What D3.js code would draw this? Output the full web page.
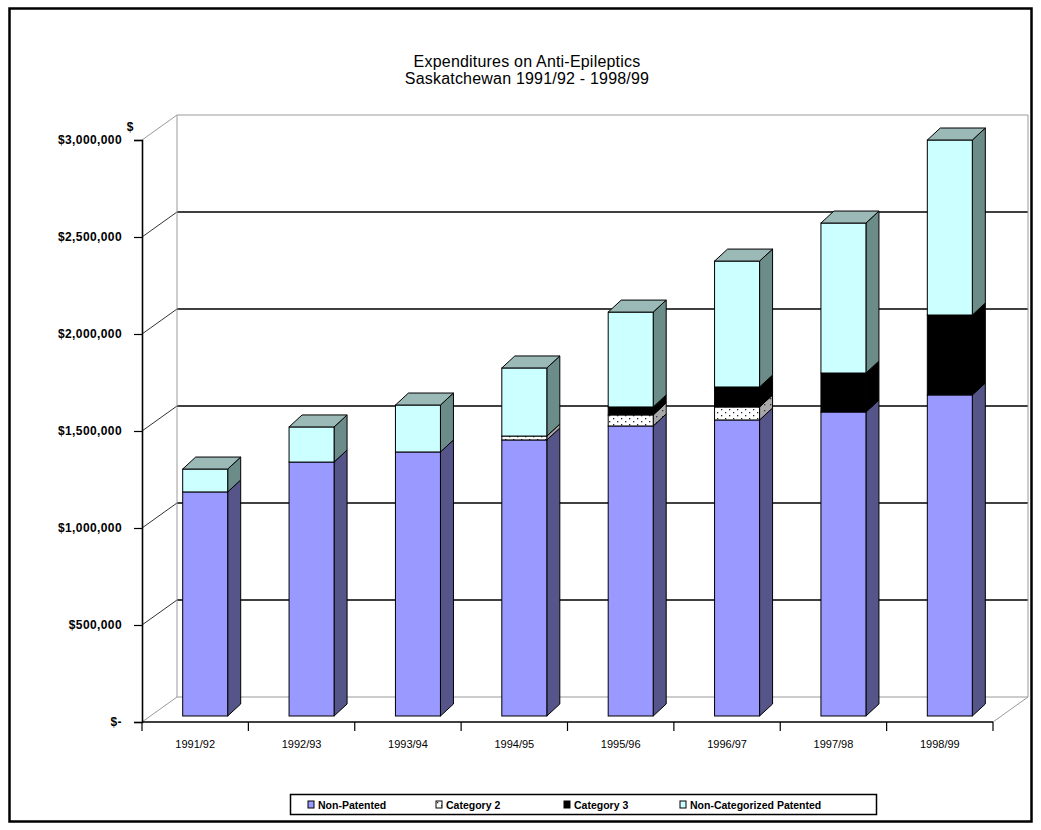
<!DOCTYPE html>
<html><head><meta charset="utf-8">
<script src="https://cdn.jsdelivr.net/npm/d3@7"></script>
<style>
html,body{margin:0;padding:0;background:#fff;}
svg{display:block;font-family:"Liberation Sans",Arial,sans-serif;}
</style></head>
<body>
<svg id="chart" width="1041" height="830"></svg>
<script>
// ---- data ----
const categories = ["1991/92","1992/93","1993/94","1994/95","1995/96","1996/97","1997/98","1998/99"];
const nonPatented     = [1155000, 1309000, 1361000, 1423000, 1495000, 1526000, 1567000, 1655000];
const category2       = [0, 0, 0, 20000, 57000, 67000, 0, 0];
const category3       = [0, 0, 0, 0, 41000, 103000, 201000, 412000];
const nonCatPatented  = [118000, 181000, 242000, 351000, 489000, 649000, 773000, 902000];
const seriesNames = ["Non-Patented","Category 2","Category 3","Non-Categorized Patented"];
const yTicks = [0, 500000, 1000000, 1500000, 2000000, 2500000, 3000000];
const yTickLabels = ["$-","$500,000","$1,000,000","$1,500,000","$2,000,000","$2,500,000","$3,000,000"];
const titleLines = ["Expenditures on Anti-Epileptics","Saskatchewan 1991/92 - 1998/99"];
const yAxisTitle = "$";

// ---- layout ----
const svg = d3.select("#chart");
const W = 1041, H = 830;
svg.append("rect").attr("x",0).attr("y",0).attr("width",W).attr("height",H).attr("fill","#fff");
svg.append("rect").attr("x",9.5).attr("y",8.5).attr("width",1022).attr("height",813)
  .attr("fill","none").attr("stroke","#000").attr("stroke-width",2.5);

const defs = svg.append("defs");
const pat = defs.append("pattern").attr("id","dots").attr("patternUnits","userSpaceOnUse")
  .attr("width",8).attr("height",6);
pat.append("rect").attr("width",8).attr("height",6).attr("fill","#fff");
pat.append("rect").attr("x",1).attr("y",1).attr("width",1.3).attr("height",1.3).attr("fill","#223");
pat.append("rect").attr("x",5).attr("y",4).attr("width",1.3).attr("height",1.3).attr("fill","#223");
const pat2 = defs.append("pattern").attr("id","dotsSide").attr("patternUnits","userSpaceOnUse")
  .attr("width",6).attr("height",6);
pat2.append("rect").attr("width",6).attr("height",6).attr("fill","#a8a8a8");
pat2.append("rect").attr("x",2).attr("y",2).attr("width",1.3).attr("height",1.3).attr("fill","#333");

const x = d3.scaleBand().domain(categories).range([142, 993]);
const y = d3.scaleLinear().domain([0, 3000000]).range([722, 140]);
const WX = 35, WY = -25;        // wall depth
const BX = 10, BY = -6;         // bar placement inside depth
const DX = 13, DY = -12;        // bar depth
const BW = 45;                  // bar width

// back wall & side wall
const g = svg.append("g");
const x0 = x.range()[0], x1 = x.range()[1];
yTicks.forEach((t,i) => {
  const edge = (i === 0 || i === yTicks.length-1);
  g.append("line").attr("x1",x0+WX).attr("x2",x1+WX).attr("y1",y(t)+WY).attr("y2",y(t)+WY)
    .attr("stroke", edge ? "#9a9a9a" : "#000").attr("stroke-width", edge ? 1 : 1.3);
  g.append("line").attr("x1",x0).attr("x2",x0+WX).attr("y1",y(t)).attr("y2",y(t)+WY)
    .attr("stroke", edge ? "#9a9a9a" : "#333").attr("stroke-width",1);
});
g.append("line").attr("x1",x0+WX).attr("x2",x0+WX).attr("y1",y(3000000)+WY).attr("y2",y(0)+WY).attr("stroke","#9a9a9a");
g.append("line").attr("x1",x1+WX).attr("x2",x1+WX).attr("y1",y(3000000)+WY).attr("y2",y(0)+WY).attr("stroke","#9a9a9a");
g.append("line").attr("x1",x1).attr("x2",x1+WX).attr("y1",y(0)).attr("y2",y(0)+WY).attr("stroke","#9a9a9a");

// axes
const yAxis = d3.axisLeft(y).tickValues(yTicks).tickFormat((d,i)=>yTickLabels[i]).tickSize(8).tickPadding(12);
const ya = svg.append("g").attr("transform",`translate(${x0},0)`).call(yAxis);
ya.select(".domain").attr("stroke","#000").attr("stroke-width",1.6);
ya.selectAll(".tick line").attr("stroke","#000").attr("stroke-width",1.2);
ya.selectAll(".tick text").attr("font-size",12).attr("font-weight","bold").attr("fill","#000")
  .attr("letter-spacing","0.4");

const xa = svg.append("g").attr("transform",`translate(0,${y(0)})`)
  .call(d3.axisBottom(x).tickSize(0).tickPadding(18));
xa.select(".domain").remove();
xa.selectAll(".tick text").attr("font-size",11).attr("fill","#000");
svg.append("line").attr("x1",x0).attr("x2",x1).attr("y1",y(0)).attr("y2",y(0)).attr("stroke","#000").attr("stroke-width",1.6);
const bounds = categories.map(c=>x(c)).concat([x1]);
svg.selectAll(".xtick").data(bounds).join("line").attr("class","xtick")
  .attr("x1",d=>d).attr("x2",d=>d).attr("y1",y(0)).attr("y2",y(0)+9).attr("stroke","#000").attr("stroke-width",1.2);

// bars
const rows = categories.map((c,i)=>({cat:c, np:nonPatented[i], c2:category2[i], c3:category3[i], ncp:nonCatPatented[i]}));
const keys = ["np","c2","c3","ncp"];
const stack = d3.stack().keys(keys)(rows);
const styles = {
  np:  {front:"#9999ff", side:"#55558a", top:"#b3b3ff"},
  c2:  {front:"url(#dots)", side:"url(#dotsSide)", top:"#ddd"},
  c3:  {front:"#000", side:"#000", top:"#222"},
  ncp: {front:"#ccffff", side:"#6c8c8a", top:"#9bb9b6"}
};
const bars = svg.append("g");
categories.forEach((c,i)=>{
  const xl = x(c) + x.bandwidth()/2 - BW/2 + BX, xr = xl + BW;
  let topKey = null;
  keys.forEach((k,ki)=>{ const s = stack[ki][i]; if (s[1]-s[0] > 0) topKey = k; });
  keys.forEach((k,ki)=>{
    const s = stack[ki][i];
    if (s[1]-s[0] <= 0) return;
    const yb = y(s[0]) + BY, yt = y(s[1]) + BY;
    const st = styles[k];
    bars.append("path")
      .attr("d",`M${xr},${yb}L${xr+DX},${yb+DY}L${xr+DX},${yt+DY}L${xr},${yt}Z`)
      .attr("fill",st.side).attr("stroke","#000").attr("stroke-width",1).attr("stroke-linejoin","round");
    bars.append("rect").attr("x",xl).attr("y",yt).attr("width",BW).attr("height",yb-yt)
      .attr("fill",st.front).attr("stroke","#000").attr("stroke-width",1);
    if (k === topKey) {
      bars.append("path")
        .attr("d",`M${xl},${yt}L${xl+DX},${yt+DY}L${xr+DX},${yt+DY}L${xr},${yt}Z`)
        .attr("fill",st.top).attr("stroke","#000").attr("stroke-width",1).attr("stroke-linejoin","round");
    }
  });
});

// titles
svg.append("text").attr("x",527).attr("y",67).attr("text-anchor","middle").attr("font-size",16).attr("letter-spacing","0.2").attr("fill","#000").text(titleLines[0]);
svg.append("text").attr("x",527).attr("y",84).attr("text-anchor","middle").attr("font-size",16).attr("letter-spacing","0.2").attr("fill","#000").text(titleLines[1]);
svg.append("text").attr("x",130).attr("y",131).attr("text-anchor","middle").attr("font-size",12).attr("font-weight","bold").text(yAxisTitle);

// legend
const lg = svg.append("g");
lg.append("rect").attr("x",290.5).attr("y",794.5).attr("width",586).attr("height",20)
  .attr("fill","#fff").attr("stroke","#000").attr("stroke-width",1.5);
const legX = [308, 436, 564, 680];
const legFill = ["#9999ff","url(#dots)","#000","#ccffff"];
seriesNames.forEach((n,i)=>{
  lg.append("rect").attr("x",legX[i]).attr("y",801).attr("width",6).attr("height",7)
    .attr("fill",legFill[i]).attr("stroke","#000").attr("stroke-width",1);
  lg.append("text").attr("x",legX[i]+10).attr("y",808.5).attr("font-size",10.5).attr("font-weight","bold")
    .attr("fill","#000").text(n);
});
</script>
</body></html>
